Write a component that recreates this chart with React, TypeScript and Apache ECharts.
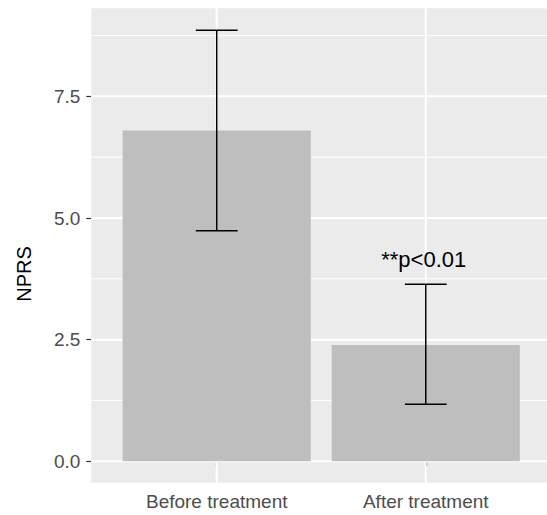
import React, { useEffect, useRef } from "react";
import * as echarts from "echarts";

const categories = ["Before treatment", "After treatment"];
const categoryPositions = [1, 2];
const means = [6.8, 2.39];
const lowerLimits = [4.74, 1.17];
const upperLimits = [8.86, 3.64];
const yMajorTicks = [0, 2.5, 5, 7.5];
const yMinorBreaks = [1.25, 3.75, 6.25, 8.75];
const annotations = [{ x: 2, y: 4.14, text: "**p<0.01" }];
const yTitle = "NPRS";

const FONT = "'Liberation Sans', Arial, sans-serif";

export default function App() {
  const ref = useRef<HTMLDivElement>(null);
  useEffect(() => {
    document.body.style.margin = "0";
    if (!ref.current) return;
    const chart = echarts.init(ref.current, null, { renderer: "svg" });

    const barData = categoryPositions.map((x, i) => [x, means[i], lowerLimits[i], upperLimits[i]]);

    chart.setOption({
      animation: false,
      grid: {
        left: 91.3,
        right: 0,
        top: 8.3,
        bottom: 32.3,
        show: true,
        backgroundColor: "#EBEBEB",
        borderWidth: 0,
        outerBoundsMode: "none",
      },
      xAxis: {
        type: "value",
        min: 0.4,
        max: 2.58,
        axisLine: { show: false },
        splitLine: { show: false },
        axisTick: {
          show: true,
          customValues: categoryPositions,
          length: 5,
          lineStyle: { color: "#333333", width: 1.2 },
        },
        axisLabel: {
          customValues: categoryPositions,
          formatter: (v: number) => categories[categoryPositions.indexOf(Math.round(v))] ?? "",
          fontSize: 19,
          fontFamily: FONT,
          color: "#4D4D4D",
          margin: 9,
        },
      },
      yAxis: {
        type: "value",
        min: -0.44,
        max: 9.31,
        axisLine: { show: false },
        splitLine: { show: false },
        axisTick: {
          show: true,
          customValues: yMajorTicks,
          length: 5,
          lineStyle: { color: "#333333", width: 1.2 },
        },
        axisLabel: {
          customValues: yMajorTicks,
          formatter: (v: number) => v.toFixed(1),
          fontSize: 19,
          fontFamily: FONT,
          color: "#4D4D4D",
          margin: 11,
        },
      },
      graphic: [
        {
          type: "text",
          x: 24,
          y: 274,
          rotation: Math.PI / 2,
          style: {
            text: yTitle,
            font: `20px ${FONT}`,
            fill: "#000000",
            textAlign: "center",
            textVerticalAlign: "middle",
          },
        },
      ],
      series: [
        {
          type: "custom",
          silent: true,
          z: 1,
          data: [[0]],
          renderItem: (params: any, api: any) => {
            const cs = params.coordSys;
            const children: any[] = [];
            yMinorBreaks.forEach((v) => {
              const y = api.coord([1, v])[1];
              children.push({
                type: "line",
                shape: { x1: cs.x, y1: y, x2: cs.x + cs.width, y2: y },
                style: { stroke: "#FFFFFF", lineWidth: 1 },
              });
            });
            yMajorTicks.forEach((v) => {
              const y = api.coord([1, v])[1];
              children.push({
                type: "line",
                shape: { x1: cs.x, y1: y, x2: cs.x + cs.width, y2: y },
                style: { stroke: "#FFFFFF", lineWidth: 2 },
              });
            });
            categoryPositions.forEach((c) => {
              const x = api.coord([c, 0])[0];
              children.push({
                type: "line",
                shape: { x1: x, y1: cs.y, x2: x, y2: cs.y + cs.height },
                style: { stroke: "#FFFFFF", lineWidth: 2 },
              });
            });
            return { type: "group", children };
          },
        },
        {
          type: "custom",
          z: 2,
          data: barData,
          renderItem: (params: any, api: any) => {
            const x = api.value(0);
            const m = api.value(1);
            const lo = api.value(2);
            const hi = api.value(3);
            const tl = api.coord([x - 0.45, m]);
            const br = api.coord([x + 0.45, 0]);
            const cLo = api.coord([x, lo]);
            const cHi = api.coord([x, hi]);
            const capL = api.coord([x - 0.1, 0])[0];
            const capR = api.coord([x + 0.1, 0])[0];
            const es = { stroke: "#000000", lineWidth: 1.5 };
            return {
              type: "group",
              children: [
                {
                  type: "rect",
                  shape: { x: tl[0], y: tl[1], width: br[0] - tl[0], height: br[1] - tl[1] },
                  style: { fill: "#BEBEBE" },
                },
                { type: "line", shape: { x1: cLo[0], y1: cLo[1], x2: cHi[0], y2: cHi[1] }, style: es },
                { type: "line", shape: { x1: capL, y1: cHi[1], x2: capR, y2: cHi[1] }, style: es },
                { type: "line", shape: { x1: capL, y1: cLo[1], x2: capR, y2: cLo[1] }, style: es },
              ],
            };
          },
        },
        {
          type: "custom",
          z: 3,
          data: annotations.map((a) => [a.x, a.y, a.text]),
          renderItem: (params: any, api: any) => {
            const p = api.coord([api.value(0), api.value(1)]);
            return {
              type: "text",
              x: p[0] - 2,
              y: p[1],
              style: {
                text: annotations[params.dataIndex].text,
                font: `22px ${FONT}`,
                fill: "#000000",
                textAlign: "center",
                textVerticalAlign: "middle",
              },
            };
          },
        },
      ],
    });
    return () => chart.dispose();
  }, []);
  return <div ref={ref} style={{ width: 547, height: 515 }} />;
}
